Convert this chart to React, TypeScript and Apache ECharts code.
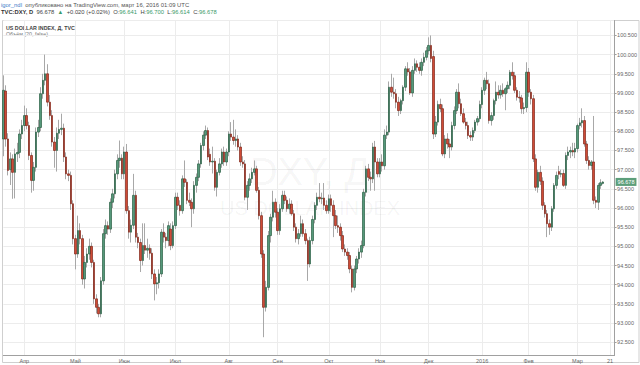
import React, { useEffect, useRef } from 'react';
import * as echarts from 'echarts';

const FONT = '"Liberation Sans", Arial, sans-serif';

const START_DATE = '2015-03-19';
const END_DATE = '2016-03-23';
const HOLIDAYS = ['2016-01-01'];

const monthLabels: Record<string, string> = {
  '2015-04-01': 'Апр', '2015-05-01': 'Май', '2015-06-01': 'Июн', '2015-07-01': 'Июл',
  '2015-08-03': 'Авг', '2015-09-01': 'Сен', '2015-10-01': 'Окт', '2015-11-02': 'Ноя',
  '2015-12-01': 'Дек', '2016-01-04': '2016', '2016-02-01': 'Фев', '2016-03-01': 'Мар',
  '2016-03-21': '21',
};

const lastPrice = 96.678;
const yMin = 92.166;
const yMax = 100.89;

// [open, high, low, close] per trading day starting 2015-03-19
const dxyDaily: number[][] = [
  [97.80, 99.46, 97.35, 99.07], [99.05, 99.20, 97.60, 97.80], [97.80, 97.95, 96.85, 96.98], [97.00, 97.45, 96.60, 97.28], [97.28, 97.40, 96.24, 96.93],
  [96.93, 97.55, 96.25, 97.41], [97.41, 97.70, 97.20, 97.45], [97.45, 98.05, 97.30, 97.93], [97.93, 98.30, 97.80, 98.15], [98.15, 98.67, 98.00, 98.41],
  [98.41, 98.60, 98.05, 98.15], [98.15, 98.25, 97.25, 97.37], [97.37, 97.45, 96.40, 96.72], [96.72, 97.20, 96.45, 97.06], [97.06, 98.10, 96.95, 97.98],
  [97.98, 98.30, 97.85, 98.10], [98.10, 99.15, 98.00, 98.98], [98.98, 99.50, 98.85, 99.33], [99.33, 100.00, 99.20, 99.50], [99.50, 99.75, 98.65, 98.76],
  [98.76, 98.95, 98.30, 98.41], [98.41, 98.55, 97.60, 97.72], [97.72, 97.85, 97.05, 97.50], [97.50, 98.10, 96.95, 97.95], [97.95, 98.30, 97.80, 98.05],
  [98.05, 98.46, 97.90, 98.08], [98.08, 98.20, 97.20, 97.33], [97.33, 97.45, 96.75, 96.89], [96.89, 97.00, 96.70, 96.85], [96.85, 96.95, 95.95, 96.11],
  [96.11, 96.20, 95.05, 95.20], [95.20, 95.30, 94.40, 94.80], [94.80, 95.80, 94.70, 95.41], [95.41, 95.60, 95.05, 95.20], [95.20, 95.30, 94.00, 94.15],
  [94.15, 94.75, 93.90, 94.58], [94.58, 94.95, 94.45, 94.80], [94.80, 95.20, 94.65, 95.00], [95.00, 95.10, 94.45, 94.58], [94.58, 94.65, 93.50, 93.63],
  [93.63, 93.75, 93.25, 93.41], [93.41, 93.50, 93.15, 93.24], [93.24, 94.20, 93.15, 94.10], [94.10, 95.45, 94.00, 95.33], [95.33, 95.70, 95.20, 95.54],
  [95.54, 95.65, 95.30, 95.45], [95.45, 96.25, 95.35, 96.15], [96.15, 96.50, 96.00, 96.37], [96.37, 97.00, 96.25, 96.89], [96.89, 97.40, 96.75, 97.24],
  [97.24, 97.76, 97.05, 97.30], [97.30, 97.40, 96.75, 96.89], [96.89, 97.60, 96.75, 97.46], [97.46, 97.67, 95.85, 95.93], [95.93, 96.05, 95.20, 95.37],
  [95.37, 95.70, 95.10, 95.55], [95.55, 96.89, 95.45, 96.33], [96.33, 96.45, 95.10, 95.24], [95.24, 95.35, 94.95, 95.10], [95.10, 95.20, 94.33, 94.63],
  [94.63, 95.60, 94.50, 95.02], [95.02, 95.60, 94.80, 94.90], [94.90, 95.20, 94.70, 94.95], [94.95, 95.05, 94.65, 94.82], [94.82, 94.95, 94.15, 94.28],
  [94.28, 94.40, 93.59, 94.02], [94.02, 94.20, 93.75, 94.05], [94.05, 94.40, 93.90, 94.28], [94.28, 95.45, 94.20, 95.37], [95.37, 95.60, 95.10, 95.24],
  [95.24, 95.35, 94.95, 95.15], [95.15, 95.65, 95.00, 95.54], [95.45, 95.60, 94.90, 95.02], [95.02, 95.65, 94.95, 95.54], [95.54, 96.40, 95.45, 96.28],
  [96.28, 96.40, 95.95, 96.07], [96.07, 96.20, 95.80, 95.93], [95.93, 96.85, 95.85, 96.76], [96.76, 97.24, 96.55, 96.67], [96.67, 96.75, 96.10, 96.20],
  [96.20, 96.40, 96.05, 96.15], [96.15, 96.25, 95.50, 95.98], [95.98, 96.70, 95.85, 96.59], [96.59, 96.90, 96.40, 96.80], [96.80, 97.25, 96.70, 97.15],
  [97.15, 97.70, 97.05, 97.63], [97.63, 98.00, 97.50, 97.90], [97.90, 98.15, 97.80, 98.02], [98.02, 98.10, 97.25, 97.33], [97.40, 97.55, 97.10, 97.20],
  [97.20, 97.60, 96.90, 97.22], [97.22, 97.30, 96.45, 96.54], [96.54, 97.00, 96.30, 96.93], [96.93, 97.30, 96.85, 97.15], [97.15, 97.55, 97.05, 97.46],
  [97.46, 97.60, 97.10, 97.20], [97.20, 97.55, 97.10, 97.46], [97.46, 98.00, 97.35, 97.93], [97.93, 98.24, 97.75, 97.85], [97.85, 98.30, 97.65, 97.76],
  [97.76, 98.05, 97.60, 97.80], [97.80, 97.90, 97.50, 97.59], [97.59, 97.70, 97.10, 97.20], [97.20, 97.35, 97.05, 97.15], [97.15, 97.25, 96.20, 96.28],
  [96.28, 96.70, 95.95, 96.59], [96.59, 96.90, 96.45, 96.76], [96.76, 97.05, 96.65, 96.93], [96.93, 97.24, 96.85, 97.02], [97.02, 97.10, 96.40, 96.46],
  [96.46, 96.55, 95.70, 95.80], [95.80, 95.90, 94.70, 94.80], [94.80, 94.90, 92.63, 93.41], [93.41, 94.10, 93.30, 93.93], [93.93, 95.40, 93.85, 95.28],
  [95.28, 95.85, 95.10, 95.76], [95.76, 96.45, 95.65, 96.15], [96.15, 96.25, 95.75, 95.89], [95.89, 96.00, 95.30, 95.41], [95.41, 96.10, 95.30, 95.98],
  [95.98, 96.45, 95.90, 96.33], [96.33, 96.45, 96.10, 96.20], [96.20, 96.30, 95.90, 95.98], [95.98, 96.25, 95.85, 96.10], [96.10, 96.20, 95.80, 95.85],
  [95.85, 95.95, 95.40, 95.50], [95.50, 95.60, 95.10, 95.20], [95.20, 95.45, 95.05, 95.33], [95.33, 95.80, 95.25, 95.59], [95.59, 95.70, 95.25, 95.33],
  [95.33, 95.45, 95.05, 95.15], [95.15, 95.20, 94.10, 94.54], [94.54, 95.25, 94.45, 95.15], [95.15, 95.80, 95.05, 95.70], [95.70, 96.15, 95.60, 96.07],
  [96.07, 96.40, 95.95, 96.28], [96.28, 96.65, 96.15, 96.24], [96.24, 96.40, 96.10, 96.26], [96.26, 96.65, 95.95, 96.07], [96.07, 96.20, 95.85, 95.93],
  [95.93, 96.35, 95.85, 96.24], [96.24, 96.35, 95.90, 96.07], [96.07, 96.20, 95.24, 95.80], [95.80, 95.95, 95.45, 95.54], [95.54, 95.80, 95.35, 95.50],
  [95.50, 95.60, 95.15, 95.28], [95.28, 95.40, 94.85, 94.93], [94.93, 95.05, 94.75, 94.85], [94.85, 94.95, 94.65, 94.76], [94.76, 94.85, 94.30, 94.41],
  [94.41, 94.50, 93.80, 93.93], [93.93, 94.50, 93.85, 94.41], [94.41, 94.75, 94.30, 94.67], [94.67, 94.95, 94.55, 94.85], [94.85, 95.15, 94.70, 95.02],
  [95.02, 96.50, 94.95, 96.41], [96.41, 97.10, 96.30, 97.02], [97.02, 97.15, 96.70, 96.80], [96.80, 96.95, 96.45, 96.76], [96.76, 97.70, 96.65, 97.59],
  [97.59, 97.75, 96.45, 97.20], [97.20, 97.30, 96.80, 96.89], [96.89, 97.30, 96.80, 97.20], [97.20, 97.40, 96.95, 97.10], [97.10, 98.05, 97.00, 97.90],
  [97.90, 98.15, 97.80, 97.98], [97.98, 99.30, 97.90, 99.15], [99.15, 99.50, 98.90, 99.02], [99.02, 99.40, 98.85, 98.98], [98.98, 99.10, 98.60, 98.76],
  [98.76, 98.90, 98.40, 98.54], [98.54, 98.85, 98.45, 98.80], [98.80, 99.20, 98.70, 99.15], [99.15, 99.70, 99.05, 99.63], [99.63, 99.80, 99.45, 99.55],
  [99.55, 99.65, 98.95, 99.00], [99.00, 99.70, 98.90, 99.59], [99.59, 99.90, 99.50, 99.76], [99.76, 99.85, 99.55, 99.67], [99.67, 99.80, 99.50, 99.59],
  [99.59, 99.90, 99.45, 99.80], [99.80, 100.05, 99.70, 99.93], [99.93, 100.20, 99.85, 100.10], [100.10, 100.45, 100.00, 100.24], [100.24, 100.50, 99.80, 99.90],
  [99.95, 100.10, 97.80, 97.93], [97.93, 98.40, 97.85, 98.24], [98.24, 98.80, 98.15, 98.70], [98.70, 98.85, 98.50, 98.59], [98.59, 98.70, 97.35, 97.41],
  [97.41, 97.90, 97.30, 97.80], [97.80, 97.95, 97.55, 97.67], [97.67, 97.80, 97.30, 97.59], [97.59, 98.25, 97.50, 98.15], [98.15, 98.65, 98.05, 98.54],
  [98.54, 99.10, 98.45, 99.02], [99.02, 99.25, 98.60, 98.72], [98.72, 98.85, 98.40, 98.46], [98.46, 98.60, 98.20, 98.24], [98.24, 98.35, 98.05, 98.15],
  [98.15, 98.25, 97.80, 97.89], [97.89, 98.00, 97.75, 97.85], [97.85, 98.10, 97.75, 98.02], [98.02, 98.30, 97.95, 98.24], [98.24, 98.40, 98.15, 98.33],
  [98.33, 98.80, 98.25, 98.70], [98.70, 99.15, 98.60, 99.07], [99.07, 99.40, 98.95, 99.33], [99.33, 99.55, 99.10, 99.24], [99.24, 99.35, 98.20, 98.28],
  [98.28, 98.50, 98.15, 98.41], [98.41, 98.85, 98.30, 98.80], [98.80, 99.30, 98.70, 99.02], [99.02, 99.20, 98.85, 98.95], [98.95, 99.20, 98.85, 99.07],
  [99.07, 99.25, 98.90, 98.98], [98.98, 99.15, 98.55, 99.11], [99.11, 99.30, 99.00, 99.20], [99.20, 99.60, 99.10, 99.54], [99.54, 99.80, 99.35, 99.45],
  [99.45, 99.55, 99.00, 99.07], [99.07, 99.15, 98.80, 98.89], [98.89, 99.05, 98.75, 98.87], [98.87, 98.95, 98.46, 98.59], [98.59, 98.75, 98.45, 98.62],
  [98.62, 99.80, 98.50, 99.54], [99.54, 99.65, 98.90, 99.02], [99.02, 99.10, 98.70, 98.85], [98.85, 98.95, 97.20, 97.28], [97.28, 97.40, 96.45, 96.54],
  [96.54, 97.00, 96.40, 96.93], [96.93, 97.10, 96.60, 96.70], [96.70, 96.80, 95.95, 96.07], [96.07, 96.15, 95.75, 95.85], [95.85, 95.95, 95.24, 95.59],
  [95.59, 95.70, 95.30, 95.50], [95.50, 96.05, 95.40, 95.98], [95.98, 96.65, 95.90, 96.59], [96.59, 96.95, 96.50, 96.85], [96.95, 97.10, 96.75, 96.88],
  [96.88, 97.00, 96.80, 96.90], [96.90, 97.00, 96.55, 96.59], [96.59, 97.45, 96.50, 97.37], [97.37, 97.60, 97.25, 97.46], [97.46, 97.60, 97.30, 97.50],
  [97.50, 97.70, 97.35, 97.46], [97.46, 97.70, 97.30, 97.55], [97.55, 98.20, 97.45, 98.15], [98.15, 98.35, 98.05, 98.22], [98.22, 98.60, 98.10, 98.28],
  [98.28, 98.40, 97.60, 97.67], [97.67, 97.75, 97.15, 97.24], [97.24, 97.35, 97.00, 97.11], [97.11, 97.25, 97.00, 97.20], [97.20, 98.40, 96.10, 96.20],
  [96.20, 96.30, 96.00, 96.15], [96.15, 96.65, 95.95, 96.59], [96.59, 96.75, 96.50, 96.658], [96.641, 96.700, 96.614, 96.678],
];

function buildDates(): string[] {
  const out: string[] = [];
  let t = Date.parse(START_DATE + 'T00:00:00Z');
  const end = Date.parse(END_DATE + 'T00:00:00Z');
  while (t <= end) {
    const d = new Date(t);
    const wd = d.getUTCDay();
    const s = d.toISOString().slice(0, 10);
    if (wd !== 0 && wd !== 6 && !HOLIDAYS.includes(s)) out.push(s);
    t += 86400000;
  }
  return out;
}

export default function App() {
  const ref = useRef<HTMLDivElement>(null);
  useEffect(() => {
    if (!ref.current) return;
    const chart = echarts.init(ref.current, undefined, { renderer: 'svg' });
    const dates = buildDates();
    const isLabel = (_i: number, v: string) => Object.prototype.hasOwnProperty.call(monthLabels, v);
    const green = '#5c9e7a';
    const option: any = {
      animation: false,
      backgroundColor: '#ffffff',
      textStyle: { fontFamily: FONT },
      grid: { left: 3.4, right: 23, top: 20.5, bottom: 10, containLabel: false },
      xAxis: {
        type: 'category',
        data: dates,
        boundaryGap: false,
        axisLine: { show: true, lineStyle: { color: '#a0a0a0', width: 1 } },
        axisTick: { show: false },
        axisLabel: {
          interval: isLabel,
          formatter: (v: string) => monthLabels[v] ?? '',
          fontSize: 5.5, color: '#666', margin: 2.5, fontFamily: FONT,
          hideOverlap: false,
        },
        splitLine: { show: true, interval: isLabel, lineStyle: { color: '#ececec', width: 1 } },
      },
      yAxis: {
        type: 'value',
        position: 'right',
        min: yMin,
        max: yMax,
        splitNumber: 17,
        axisLine: { show: true, lineStyle: { color: '#a0a0a0', width: 1 } },
        axisTick: { show: true, length: 2, lineStyle: { color: '#a0a0a0' } },
        axisLabel: {
          fontSize: 5.5, color: '#666', margin: 2.5, fontFamily: FONT,
          formatter: (v: number) => v.toFixed(3),
          showMinLabel: false, showMaxLabel: false,
        },
        splitLine: { show: true, lineStyle: { color: '#ececec', width: 1 } },
      },
      series: [
        {
          type: 'candlestick',
          name: 'wicks',
          data: dxyDaily.map(([o, h, l, c]) => [o, c, l, h]),
          barWidth: 1,
          itemStyle: { color: '#a8a8a8', color0: '#a8a8a8', borderColor: '#a8a8a8', borderColor0: '#a8a8a8', borderWidth: 1 },
          z: 2,
        },
        {
          type: 'candlestick',
          name: 'DXY',
          data: dxyDaily.map(([o, , , c]) => [o, c, Math.min(o, c), Math.max(o, c)]),
          barWidth: 2,
          itemStyle: { color: '#55987a', color0: '#cf4b36', borderColor: '#2a5f43', borderColor0: '#80271a', borderWidth: 0.7 },
          z: 3,
          markLine: {
            silent: true,
            symbol: ['none', 'none'],
            data: [{ yAxis: lastPrice }],
            lineStyle: { color: 'rgba(0,0,0,0)', width: 0 },
            label: {
              show: true, position: 'end', distance: 1,
              formatter: lastPrice.toFixed(3),
              color: '#ffffff', backgroundColor: green, fontSize: 5.5,
              padding: [1, 2, 1, 2], fontFamily: FONT,
            },
          },
        },
      ],
      graphic: [
        {
          type: 'rect', z: 0, silent: true,
          shape: { x: 2.5, y: 20.5, width: 636.5, height: 342 },
          style: { fill: 'none', stroke: '#cfcfcf', lineWidth: 1 },
        },
        {
          type: 'text', x: 310, y: 172, z: 1, silent: true,
          style: { text: 'DXY, Д', fill: 'rgba(0,0,0,0.05)', fontSize: 38, fontFamily: FONT, align: 'center', verticalAlign: 'middle' },
        },
        {
          type: 'text', x: 310, y: 208, z: 1, silent: true,
          style: { text: 'US DOLLAR INDEX', fill: 'rgba(0,0,0,0.05)', fontSize: 20, fontFamily: FONT, align: 'center', verticalAlign: 'middle' },
        },
        {
          type: 'text', x: 1, y: 5, silent: true,
          style: {
            text: '{u|igor_ndl} {g|опубликовано на TradingView.com, март 16, 2016 01:09 UTC}',
            verticalAlign: 'middle', fontFamily: FONT,
            rich: {
              u: { fill: '#3d7cc9', fontSize: 5.9, fontFamily: FONT },
              g: { fill: '#555555', fontSize: 5.9, fontFamily: FONT },
            },
          },
        },
        {
          type: 'text', x: 1, y: 11.5, silent: true,
          style: {
            text: '{b|TVC:DXY, D} {d|96.678} {gr|▲} {d|+0.020 (+0.02%)} {d|O:}{gr|96.641} {d|H:}{gr|96.700} {d|L:}{gr|96.614} {d|C:}{gr|96.678}',
            verticalAlign: 'middle', fontFamily: FONT,
            rich: {
              b: { fill: '#333333', fontSize: 5.8, fontWeight: 'bold', fontFamily: FONT },
              d: { fill: '#444444', fontSize: 5.8, fontFamily: FONT },
              gr: { fill: '#3a9a6a', fontSize: 5.8, fontFamily: FONT },
            },
          },
        },
        {
          type: 'text', x: 6, y: 28, silent: true,
          style: { text: 'US DOLLAR INDEX, Д, TVC', fill: '#444444', fontSize: 5.3, fontWeight: 'bold', fontFamily: FONT, verticalAlign: 'middle' },
        },
        {
          type: 'text', x: 6, y: 33.5, silent: true,
          style: { text: 'Объём (20, false)', fill: '#777777', fontSize: 5.3, fontFamily: FONT, verticalAlign: 'middle' },
        },
      ],
    };
    chart.setOption(option);
    return () => chart.dispose();
  }, []);
  return <div ref={ref} style={{ position: 'absolute', left: 0, top: 0, width: 640, height: 365 }} />;
}
